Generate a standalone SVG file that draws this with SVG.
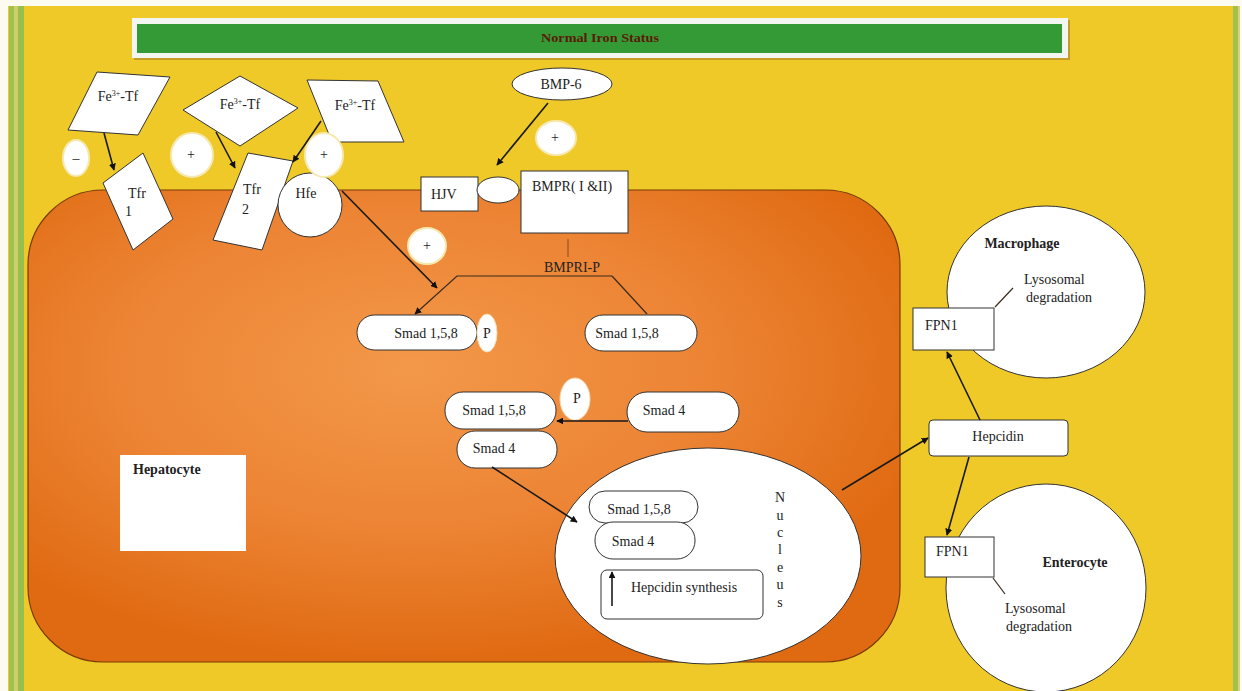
<svg xmlns="http://www.w3.org/2000/svg" width="1242" height="691" viewBox="0 0 1242 691">
<style>
.t{font-family:"Liberation Serif","Times New Roman",serif;font-size:14px;fill:#222}
.b{font-family:"Liberation Serif","Times New Roman",serif;font-size:14px;font-weight:bold;fill:#222}
.s{fill:#fff;stroke:#333;stroke-width:1}
.pm{fill:#fff;stroke:#F6E9B0;stroke-width:2}
.c{fill:none;stroke:#1a1a1a;stroke-width:1.6}
.ln{fill:none;stroke:#3a2a1a;stroke-width:1.2}
</style>
<defs>
<marker id="ah" viewBox="0 0 10 10" refX="9" refY="5" markerWidth="7" markerHeight="7" orient="auto" markerUnits="userSpaceOnUse">
<path d="M0,0 L10,5 L0,10 z" fill="#111"/>
</marker>
<radialGradient id="hep" cx="0.44" cy="0.38" r="0.62">
<stop offset="0" stop-color="#F39849"/>
<stop offset="0.55" stop-color="#EC8434"/>
<stop offset="1" stop-color="#E06A12"/>
</radialGradient>
</defs>
<!-- background -->
<rect x="0" y="0" width="1242" height="691" fill="#FDFAF0"/>
<rect x="8" y="6" width="1232" height="685" fill="#EFC928"/>
<rect x="9" y="6" width="5" height="685" fill="#9EC150"/>
<rect x="14" y="6" width="4" height="685" fill="#CDD06A"/>
<rect x="18" y="6" width="6" height="685" fill="#98BE4E"/>
<rect x="1233" y="6" width="5" height="685" fill="#9EC150"/>
<rect x="1238" y="6" width="2" height="685" fill="#D9D27A"/>

<!-- title -->
<g id="title">
<rect x="134" y="20" width="936" height="40" fill="#A8801E" opacity="0.6"/>
<rect x="132" y="18" width="936" height="40" fill="#F3F6F0"/>
<rect x="137" y="24" width="925" height="29" fill="#349A36"/>
<text x="600" y="42" text-anchor="middle" font-family="Liberation Serif, serif" font-size="13" font-weight="bold" fill="#5A1A05" textLength="118" lengthAdjust="spacingAndGlyphs">Normal Iron Status</text>
</g>

<!-- hepatocyte cell -->
<g id="hepatocyte">
<rect x="28" y="190" width="872" height="472" rx="75" ry="75" fill="url(#hep)" stroke="#7A3A08" stroke-width="1.2"/>
<rect x="120" y="455" width="126" height="96" fill="#fff"/>
<text class="b" x="133" y="474">Hepatocyte</text>
</g>

<!-- Fe-Tf shapes -->
<g id="fe1">
<polygon class="s" points="68,130 97,72 170,77 138,135"/>
<text class="t" x="118" y="101" text-anchor="middle">Fe<tspan font-size="8" dy="-5">3+</tspan><tspan dy="5">-Tf</tspan></text>
</g>
<g id="fe2">
<polygon class="s" points="183,110 240,76 298,108 240,146"/>
<text class="t" x="240" y="109" text-anchor="middle">Fe<tspan font-size="8" dy="-5">3+</tspan><tspan dy="5">-Tf</tspan></text>
</g>
<g id="fe3">
<polygon class="s" points="307,80 378,81 404,142 332,142"/>
<text class="t" x="355" y="110" text-anchor="middle">Fe<tspan font-size="8" dy="-5">3+</tspan><tspan dy="5">-Tf</tspan></text>
</g>

<g id="tfr1">
<polygon class="s" points="103,183 143,153 173,219 133,250"/>
<text class="t" x="128" y="198">Tfr</text>
<text class="t" x="125" y="216">1</text>
</g>
<g id="tfr2">
<polygon class="s" points="248,153 293,161 262,250 213,240"/>
<text class="t" x="243" y="194">Tfr</text>
<text class="t" x="242" y="214">2</text>
</g>
<g id="hfe">
<circle class="s" cx="310" cy="205" r="32"/>
<text class="t" x="306" y="198" text-anchor="middle">Hfe</text>
</g>

<!-- signs -->
<g id="minus1"><ellipse class="pm" cx="76" cy="158" rx="13" ry="18"/><text class="t" x="76" y="163" text-anchor="middle">–</text></g>
<g id="plus1"><ellipse class="pm" cx="192" cy="155" rx="21" ry="22"/><text class="t" x="191" y="159" text-anchor="middle" font-size="12">+</text></g>
<g id="plus2"><ellipse class="pm" cx="324" cy="155" rx="19" ry="22"/><text class="t" x="324" y="159" text-anchor="middle" font-size="12">+</text></g>
<g id="plus3"><ellipse class="pm" cx="556" cy="138" rx="20" ry="17"/><text class="t" x="555" y="142" text-anchor="middle" font-size="12">+</text></g>
<g id="plus4"><ellipse class="pm" cx="427" cy="246" rx="19" ry="18"/><text class="t" x="427" y="250" text-anchor="middle" font-size="12">+</text></g>

<!-- BMP pathway -->
<g id="bmp6">
<ellipse class="s" cx="562" cy="84" rx="50" ry="16"/>
<text class="t" x="561" y="89" text-anchor="middle">BMP-6</text>
</g>
<g id="hjv">
<rect class="s" x="421" y="177" width="57" height="34"/>
<text class="t" x="431" y="199">HJV</text>
</g>
<g id="hjvoval">
<ellipse class="s" cx="498" cy="190" rx="21" ry="13"/>
</g>
<g id="bmpr">
<rect class="s" x="521" y="171" width="107" height="62"/>
<text class="t" x="532" y="191">BMPR( I &amp;II)</text>
</g>
<g id="bmprip">
<text class="t" x="572" y="272" text-anchor="middle">BMPRI-P</text>
</g>

<g id="smadP1">
<rect class="s" x="357" y="315" width="120" height="35" rx="17.5"/>
<text class="t" x="426" y="338" text-anchor="middle">Smad 1,5,8</text>
</g>
<g id="p1">
<ellipse cx="487" cy="333" rx="10" ry="19" fill="#fff" stroke="#F6D9B0" stroke-width="1"/>
<text class="t" x="487" y="338" text-anchor="middle">P</text>
</g>
<g id="smad2">
<rect class="s" x="585" y="315" width="112" height="36" rx="18"/>
<text class="t" x="627" y="338" text-anchor="middle">Smad 1,5,8</text>
</g>
<g id="smad3">
<rect class="s" x="445" y="392" width="111" height="37" rx="18"/>
<text class="t" x="494" y="415" text-anchor="middle">Smad 1,5,8</text>
</g>
<g id="p2">
<ellipse cx="575" cy="399" rx="15" ry="21" fill="#fff" stroke="#F6D9B0" stroke-width="1"/>
<text class="t" x="577" y="403" text-anchor="middle">P</text>
</g>
<g id="smad4r">
<rect class="s" x="627" y="392" width="112" height="40" rx="20"/>
<text class="t" x="664" y="415" text-anchor="middle">Smad 4</text>
</g>
<g id="smad4l">
<rect class="s" x="457" y="431" width="100" height="37" rx="18"/>
<text class="t" x="494" y="453" text-anchor="middle">Smad 4</text>
</g>

<!-- nucleus -->
<g id="nucleus">
<ellipse class="s" cx="708" cy="556" rx="153" ry="108"/>
<rect class="s" x="589" y="491" width="109" height="32" rx="16"/>
<text class="t" x="639" y="514" text-anchor="middle">Smad 1,5,8</text>
<rect class="s" x="595" y="522" width="100" height="37" rx="18"/>
<text class="t" x="633" y="546" text-anchor="middle">Smad 4</text>
<rect class="s" x="601" y="570" width="162" height="49" rx="6"/>
<text class="t" x="684" y="592" text-anchor="middle">Hepcidin synthesis</text>
<text class="t" x="780" text-anchor="middle"><tspan x="780" y="502">N</tspan><tspan x="780" y="520">u</tspan><tspan x="780" y="537">c</tspan><tspan x="780" y="554">l</tspan><tspan x="780" y="572">e</tspan><tspan x="780" y="589">u</tspan><tspan x="780" y="607">s</tspan></text>
</g>

<!-- right cells -->
<g id="macrophage">
<ellipse class="s" cx="1046" cy="292" rx="99" ry="86"/>
<text class="b" x="1022" y="248" text-anchor="middle">Macrophage</text>
<text class="t" x="1024" y="284">Lysosomal</text>
<text class="t" x="1026" y="302">degradation</text>
</g>
<g id="fpn1top">
<rect class="s" x="913" y="308" width="81" height="42"/>
<text class="t" x="925" y="330">FPN1</text>
</g>
<g id="hepcidin">
<rect class="s" x="929" y="420" width="139" height="36" rx="4"/>
<text class="t" x="998" y="441" text-anchor="middle">Hepcidin</text>
</g>
<g id="enterocyte">
<ellipse class="s" cx="1046" cy="588" rx="100" ry="104"/>
<text class="b" x="1075" y="567" text-anchor="middle">Enterocyte</text>
<text class="t" x="1005" y="613">Lysosomal</text>
<text class="t" x="1006" y="631">degradation</text>
</g>
<g id="fpn1bot">
<rect class="s" x="925" y="537" width="69" height="40"/>
<text class="t" x="936" y="556">FPN1</text>
</g>

<!-- connectors -->
<g id="connectors">
<line class="c" x1="104" y1="133" x2="114" y2="170" marker-end="url(#ah)"/>
<line class="c" x1="216" y1="132" x2="235" y2="168" marker-end="url(#ah)"/>
<line class="c" x1="321" y1="121" x2="293" y2="162" marker-end="url(#ah)"/>
<line class="c" x1="548" y1="103" x2="497" y2="165" marker-end="url(#ah)"/>
<line class="c" x1="342" y1="191" x2="437" y2="288" marker-end="url(#ah)"/>
<line x1="568" y1="239" x2="568" y2="257" stroke="#8A4A1A" stroke-width="1"/>
<polyline class="ln" points="612,276 457,276 415,314" marker-end="url(#ah)"/>
<line class="ln" x1="612" y1="276" x2="647" y2="314"/>
<line class="c" x1="628" y1="421" x2="557" y2="421" marker-end="url(#ah)"/>
<line class="c" x1="492" y1="467" x2="577" y2="522" marker-end="url(#ah)"/>
<line class="c" x1="612" y1="606" x2="612" y2="572" marker-end="url(#ah)"/>
<line class="c" x1="842" y1="490" x2="928" y2="438" marker-end="url(#ah)"/>
<line class="c" x1="980" y1="420" x2="947" y2="352" marker-end="url(#ah)"/>
<line class="c" x1="969" y1="457" x2="947" y2="535" marker-end="url(#ah)"/>
<line class="ln" x1="995" y1="307" x2="1013" y2="288"/>
<line class="ln" x1="993" y1="578" x2="1005" y2="594"/>
</g>
</svg>
